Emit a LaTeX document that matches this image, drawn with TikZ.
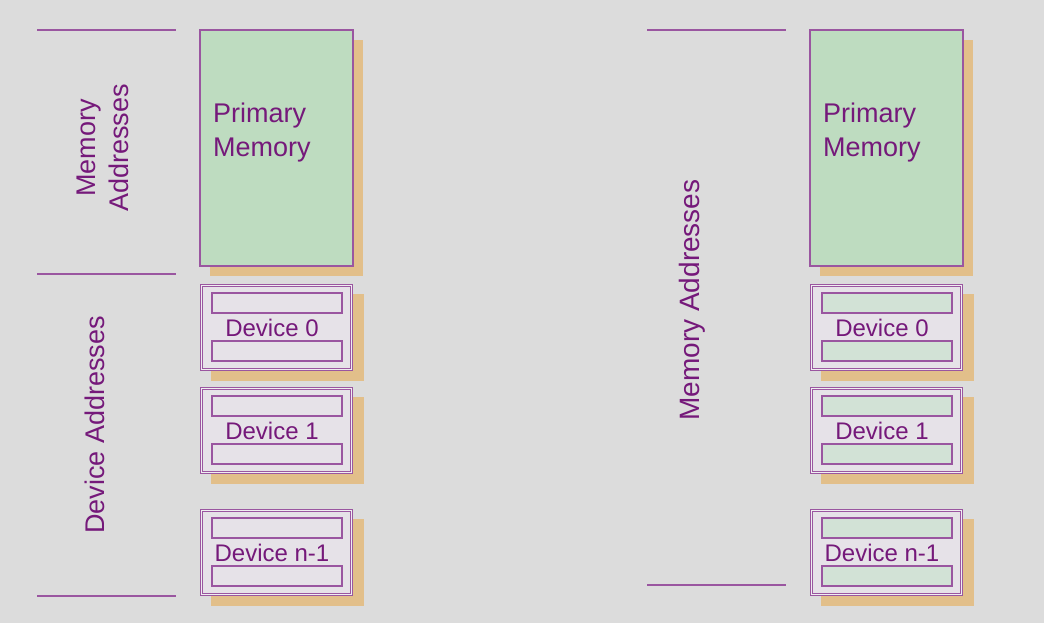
\documentclass[tikz,border=0pt]{standalone}
\usepackage{fontspec}
\setmainfont{Liberation Sans}
\definecolor{bg}{HTML}{DCDCDC}
\definecolor{txt}{HTML}{75197A}
\definecolor{ln}{HTML}{9A56A0}
\definecolor{pm}{HTML}{BEDCC0}
\definecolor{sh}{HTML}{E2BF8A}
\definecolor{devfill}{HTML}{E6E2E8}
\definecolor{barfill}{HTML}{D2E2D6}
\tikzset{
  sep/.style={draw=ln, line width=2pt},
  shadowbox/.style={fill=sh},
  pmbox/.style={draw=ln, line width=1.4pt, fill=pm},
  devbox/.style={draw=ln, line width=0.8pt, double=devfill!60!white, double distance=1.1pt, fill=devfill},
  barL/.style={draw=ln, line width=1.1pt, fill=devfill},
  barR/.style={draw=ln, line width=1.1pt, fill=barfill},
  lbl/.style={text=txt, inner sep=0pt},
}
\begin{document}
\begin{tikzpicture}[x=1pt,y=-1pt]
\fill[bg] (0,0) rectangle (1044,623);
\useasboundingbox (0,0) rectangle (1044,623);

% separator lines left
\draw[sep] (37,30) coordinate (l1a) -- (176,30) coordinate (l1b);
\draw[sep] (37,274) coordinate (l2a) -- (176,274) coordinate (l2b);
\draw[sep] (37,596) coordinate (l3a) -- (176,596) coordinate (l3b);
% separator lines right
\draw[sep] (647,30) coordinate (r1a) -- (786,30) coordinate (r1b);
\draw[sep] (647,585) coordinate (r2a) -- (786,585) coordinate (r2b);

% side labels
\node[lbl, rotate=90, align=center, font=\fontsize{27}{33}\selectfont] (memaddrL) at (103,148) {Memory\\Addresses};
\node[lbl, rotate=90, font=\fontsize{27}{32}\selectfont] (devaddrL) at (95,425) {Device Addresses};
\node[lbl, rotate=90, font=\fontsize{28}{32}\selectfont] (memaddrR) at (692,300) {Memory Addresses};

\foreach \ox/\s/\bar in {0/L/barL, 610/R/barR} {
  % primary memory
  \fill[shadowbox] (\ox+210,40) rectangle (\ox+363,276);
  \draw[pmbox] (\ox+200,30) rectangle (\ox+353,266);
  \node[lbl, anchor=west, align=left, font=\fontsize{27}{34}\selectfont] (pm\s) at (\ox+213,133) {Primary\\Memory};
  % devices
  \foreach \y/\t/\n in {284/Device 0/d0, 387/Device 1/d1, 509/Device n-1/dn} {
    \fill[shadowbox] (\ox+211,\y+10) rectangle (\ox+364,\y+97);
    \draw[devbox] (\ox+201.3,\y+1.3) rectangle (\ox+351.7,\y+85.7);
    \draw[\bar] (\ox+212,\y+9) rectangle (\ox+342,\y+29);
    \draw[\bar] (\ox+212,\y+57) rectangle (\ox+342,\y+77);
    \node[lbl, font=\fontsize{24}{28}\selectfont] (\n\s) at (\ox+272,\y+44) {\t};
  }
}
\end{tikzpicture}
\end{document}
